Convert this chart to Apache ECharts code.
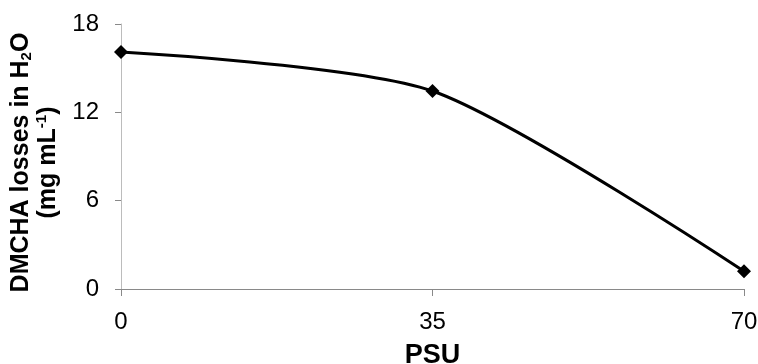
<!DOCTYPE html>
<html><head><meta charset="utf-8">
<script src="https://cdn.jsdelivr.net/npm/echarts@6/dist/echarts.min.js"></script>
<style>html,body{margin:0;padding:0;background:#fff}#c{width:758px;height:364px}</style>
</head><body><div id="c"></div>
<script>
const psu = [0, 35, 70];
const losses = [16.1, 13.45, 1.2];
const xTicks = [0, 35, 70];
const yTicks = [0, 6, 12, 18];

const F = 'Liberation Sans, Arial, sans-serif';
const chart = echarts.init(document.getElementById('c'), null, {renderer: 'canvas'});
chart.setOption({
  animation: false,
  grid: {left: 121, right: 14, top: 24, bottom: 75, containLabel: false, outerBoundsMode: 'none'},
  xAxis: {
    type: 'value', min: xTicks[0], max: xTicks[xTicks.length - 1], interval: xTicks[1] - xTicks[0],
    name: 'PSU', nameLocation: 'middle', nameGap: 53,
    nameTextStyle: {fontFamily: F, fontWeight: 'bold', fontSize: 27, color: '#000'},
    axisLine: {show: true, lineStyle: {color: '#898989', width: 1}},
    axisTick: {show: true, length: 7, lineStyle: {color: '#898989'}},
    axisLabel: {margin: 21, fontFamily: F, fontSize: 24, color: '#000'},
    splitLine: {show: false}
  },
  yAxis: {
    type: 'value', min: yTicks[0], max: yTicks[yTicks.length - 1], interval: yTicks[1] - yTicks[0],
    name: '{b|DMCHA losses in H}{sub|2}{b|O}\n{b|(mg mL}{sup|-1}{b|)}',
    nameLocation: 'middle', nameGap: 51, nameRotate: 90,
    nameTextStyle: {
      fontFamily: F, fontWeight: 'bold', fontSize: 25, color: '#000', lineHeight: 27,
      padding: [0, 12, 0, 0],
      rich: {
        b: {fontFamily: F, fontWeight: 'bold', fontSize: 25, color: '#000', lineHeight: 27},
        sub: {fontFamily: F, fontWeight: 'bold', fontSize: 15, color: '#000', lineHeight: 15, verticalAlign: 'bottom'},
        sup: {fontFamily: F, fontWeight: 'bold', fontSize: 15, color: '#000', lineHeight: 15, verticalAlign: 'top'}
      }
    },
    axisLine: {show: true, lineStyle: {color: '#bcbcbc', width: 1}},
    axisTick: {show: true, length: 6, lineStyle: {color: '#898989'}},
    axisLabel: {margin: 22, fontFamily: F, fontSize: 24, color: '#000'},
    splitLine: {show: false}
  },
  series: [{
    type: 'line',
    data: psu.map((x, i) => [x, losses[i]]),
    smooth: 0.25,
    symbol: 'diamond', symbolSize: 14,
    itemStyle: {color: '#000'},
    lineStyle: {color: '#000', width: 3}
  }]
});
</script></body></html>
